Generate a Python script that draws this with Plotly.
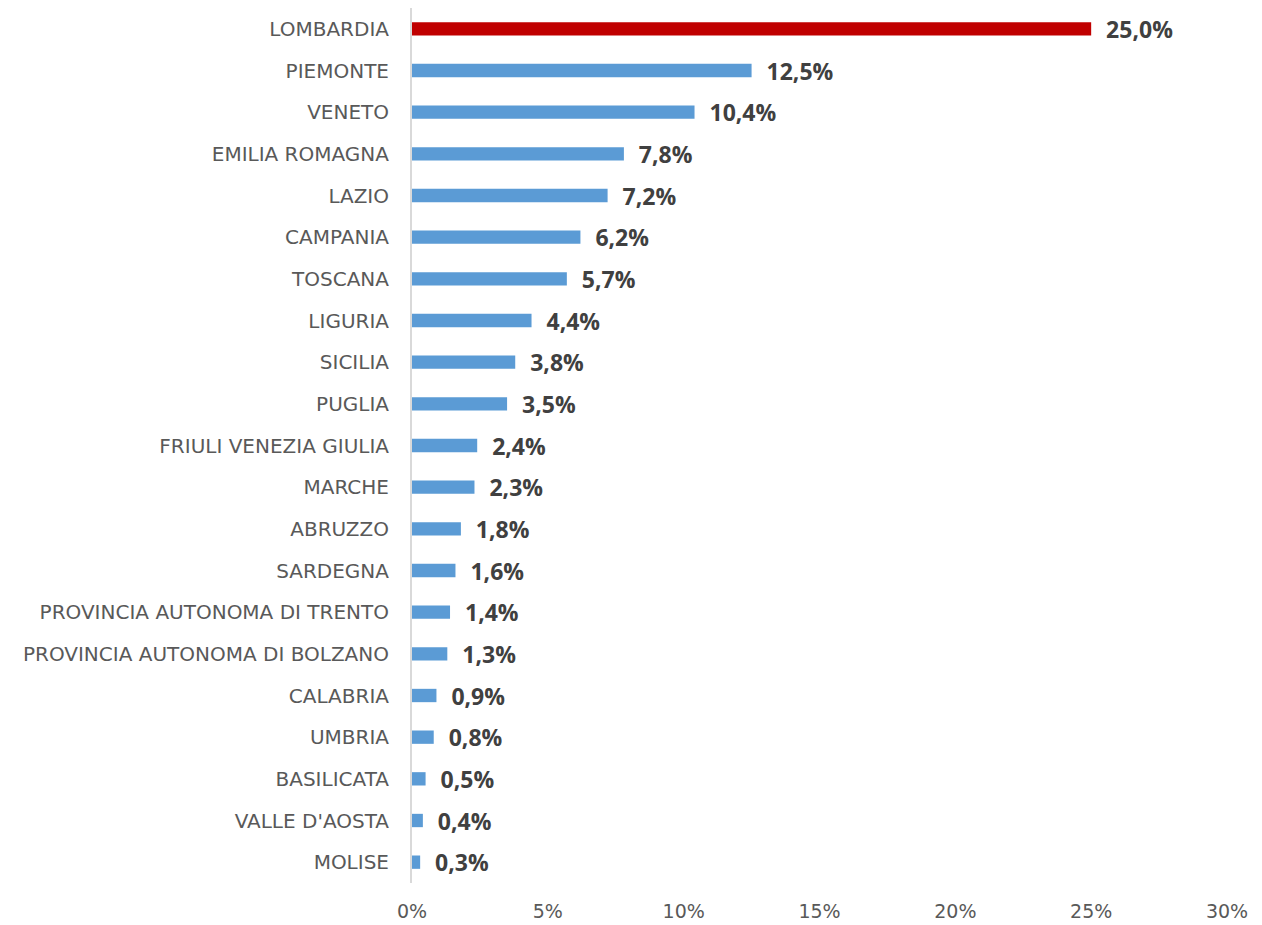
import plotly.graph_objects as go

regions = ["LOMBARDIA", "PIEMONTE", "VENETO", "EMILIA ROMAGNA", "LAZIO", "CAMPANIA",
           "TOSCANA", "LIGURIA", "SICILIA", "PUGLIA", "FRIULI VENEZIA GIULIA", "MARCHE",
           "ABRUZZO", "SARDEGNA", "PROVINCIA AUTONOMA DI TRENTO",
           "PROVINCIA AUTONOMA DI BOLZANO", "CALABRIA", "UMBRIA", "BASILICATA",
           "VALLE D'AOSTA", "MOLISE"]
shares = [25.0, 12.5, 10.4, 7.8, 7.2, 6.2, 5.7, 4.4, 3.8, 3.5, 2.4, 2.3, 1.8, 1.6, 1.4,
          1.3, 0.9, 0.8, 0.5, 0.4, 0.3]
tick_vals = [0, 5, 10, 15, 20, 25, 30]
tick_text = ["0%", "5%", "10%", "15%", "20%", "25%", "30%"]

colors = ["#C00000" if r == "LOMBARDIA" else "#5B9BD5" for r in regions]
labels = ["\u00a0\u00a0" + f"{v:.1f}%".replace(".", ",") for v in shares]

fig = go.Figure(go.Bar(
    x=shares, y=regions, orientation="h",
    marker=dict(color=colors, line=dict(width=0)),
    width=0.32,
    text=labels, textposition="outside", cliponaxis=False, constraintext="none",
    textfont=dict(family="Open Sans", size=23, color="#404040", weight="bold"),
))
fig.update_layout(
    width=1254, height=917,
    margin=dict(l=404, r=35, t=0, b=42),
    paper_bgcolor="white", plot_bgcolor="white",
    showlegend=False,
    font=dict(family="DejaVu Sans"),
    xaxis=dict(range=[0, 30], tickvals=tick_vals, ticktext=tick_text, automargin=False,
               showgrid=False, zeroline=False, showline=False,
               tickfont=dict(family="DejaVu Sans", size=19, color="#595959"),
               ticklabelstandoff=15),
    yaxis=dict(autorange="reversed", showgrid=False, zeroline=False, automargin=False,
               showline=True, linecolor="#D9D9D9", linewidth=2,
               tickfont=dict(family="DejaVu Sans", size=20, color="#595959"),
               ticklabelstandoff=17),
)
fig.write_html("out.html")
